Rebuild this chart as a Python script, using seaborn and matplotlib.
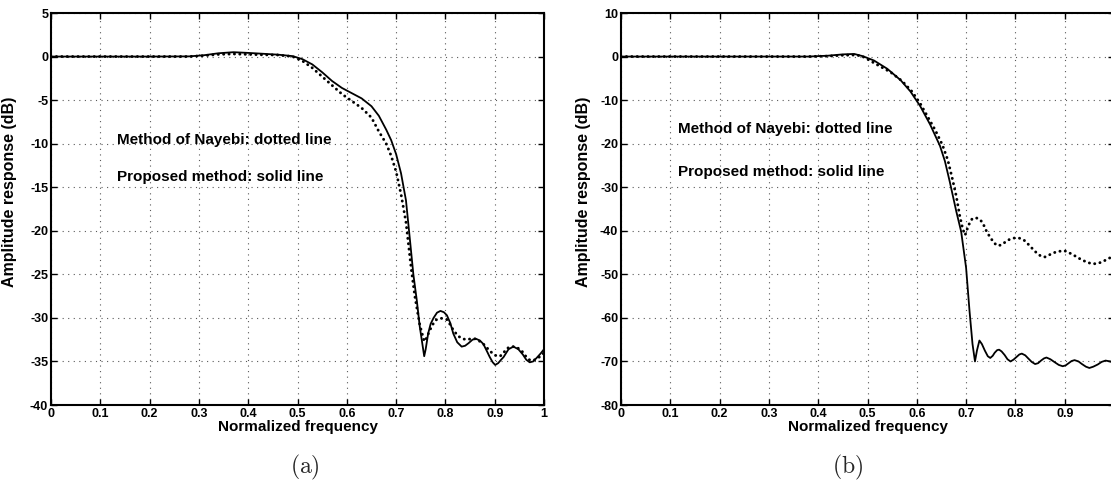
import matplotlib
matplotlib.use("Agg")
import matplotlib.pyplot as plt
import seaborn as sns
import pandas as pd

# ---------------- data ----------------
# panel (a)
a_solid_f = [0, 0.1, 0.2, 0.28, 0.31, 0.34, 0.37, 0.40, 0.43, 0.46, 0.49, 0.51, 0.53, 0.55,
             0.57, 0.59, 0.61, 0.63, 0.65, 0.665, 0.68, 0.69, 0.70, 0.71, 0.72, 0.728, 0.735,
             0.742, 0.748, 0.757, 0.760, 0.765, 0.770, 0.776, 0.783, 0.79, 0.797, 0.803, 0.81,
             0.816, 0.824, 0.833, 0.840, 0.847, 0.855, 0.862, 0.870, 0.877, 0.884, 0.89, 0.896,
             0.901, 0.907, 0.913, 0.918, 0.928, 0.938, 0.948, 0.957, 0.964, 0.971, 0.978, 0.985,
             0.993, 1.0]
a_solid_db = [0, 0, 0, 0.02, 0.15, 0.38, 0.5, 0.42, 0.32, 0.22, 0.05, -0.3, -0.9, -1.8,
              -2.8, -3.6, -4.2, -4.8, -5.7, -6.8, -8.4, -9.6, -11.2, -13.4, -16.5, -21.0, -25.0,
              -28.0, -31.0, -34.4, -33.6, -31.8, -30.7, -30.0, -29.4, -29.2, -29.35, -29.7, -30.6,
              -31.8, -32.8, -33.3, -33.2, -32.9, -32.5, -32.4, -32.6, -33.0, -33.8, -34.5, -35.1,
              -35.4, -35.2, -34.8, -34.5, -33.6, -33.3, -33.6, -34.2, -34.8, -35.1, -35.0, -34.6,
              -34.1, -33.6]
a_dot_f = [0, 0.1, 0.2, 0.28, 0.31, 0.34, 0.37, 0.40, 0.43, 0.46, 0.49, 0.51, 0.53, 0.55,
           0.57, 0.59, 0.61, 0.63, 0.65, 0.665, 0.68, 0.69, 0.70, 0.71, 0.72, 0.731, 0.738,
           0.748, 0.757, 0.762, 0.767, 0.772, 0.777, 0.782, 0.792, 0.803, 0.81, 0.816, 0.826,
           0.835, 0.843, 0.852, 0.862, 0.870, 0.879, 0.89, 0.901, 0.911, 0.918, 0.925, 0.933,
           0.941, 0.948, 0.955, 0.963, 0.970, 0.978, 0.985, 0.993, 1.0]
a_dot_db = [0, 0, 0, 0, 0.1, 0.25, 0.3, 0.25, 0.2, 0.18, 0.0, -0.5, -1.3, -2.3,
            -3.3, -4.3, -5.1, -5.9, -7.0, -8.6, -10.0, -11.4, -13.2, -15.8, -19.0, -24.5, -27.5,
            -30.8, -32.7, -32.3, -31.6, -31.0, -30.5, -30.2, -30.05, -30.2, -30.8, -31.4, -32.1,
            -32.4, -32.5, -32.4, -32.4, -32.7, -33.1, -33.8, -34.3, -34.4, -34.0, -33.5, -33.3,
            -33.3, -33.5, -33.8, -34.4, -34.8, -34.9, -34.7, -34.4, -34.0]

# panel (b)
b_solid_f = [0, 0.1, 0.2, 0.3, 0.38, 0.42, 0.45, 0.473, 0.49, 0.513, 0.54, 0.567, 0.587, 0.607,
             0.627, 0.647, 0.657, 0.667, 0.68, 0.69, 0.70, 0.707, 0.713, 0.718, 0.722, 0.727,
             0.732, 0.738, 0.744, 0.749, 0.754, 0.758, 0.763, 0.767, 0.772, 0.778, 0.784, 0.79,
             0.796, 0.802, 0.808, 0.813, 0.82, 0.826, 0.833, 0.84, 0.846, 0.852, 0.858, 0.863,
             0.871, 0.88, 0.888, 0.896, 0.902, 0.908, 0.914, 0.92, 0.928, 0.935, 0.943, 0.95,
             0.958, 0.967, 0.975, 0.983, 0.992, 1.0]
b_solid_db = [0, 0, 0, 0, 0, 0.2, 0.5, 0.6, 0.1, -0.9, -2.8, -5.4, -8.0, -11.4,
              -15.6, -20.5, -24.0, -28.8, -35.5, -40.2, -48.5, -58.5, -66.0, -70.0, -67.5, -65.2,
              -66.0, -67.5, -68.8, -69.2, -68.7, -68.0, -67.4, -67.3, -67.7, -68.5, -69.5, -70.0,
              -69.6, -69.0, -68.4, -68.2, -68.6, -69.3, -70.1, -70.6, -70.4, -69.8, -69.3, -69.1,
              -69.5, -70.2, -70.8, -71.1, -70.9, -70.4, -69.9, -69.7, -70.0, -70.6, -71.2, -71.5,
              -71.2, -70.7, -70.1, -69.8, -70.0, -70.3]
b_dot_f = [0, 0.1, 0.2, 0.3, 0.38, 0.42, 0.45, 0.47, 0.487, 0.50, 0.52, 0.547, 0.57, 0.59,
           0.607, 0.622, 0.637, 0.652, 0.663, 0.672, 0.68, 0.687, 0.693, 0.698, 0.705, 0.712,
           0.72, 0.729, 0.735, 0.74, 0.745, 0.75, 0.757, 0.763, 0.77, 0.777, 0.784, 0.79,
           0.80, 0.808, 0.817, 0.827, 0.837, 0.845, 0.853, 0.86, 0.865, 0.871, 0.877, 0.884,
           0.89, 0.90, 0.908, 0.917, 0.927, 0.937, 0.947, 0.957, 0.967, 0.977, 0.985, 0.992,
           1.0]
b_dot_db = [0, 0, 0, 0, 0, 0.1, 0.3, 0.35, 0.2, -0.6, -1.9, -3.6, -5.6, -8.0,
            -10.8, -13.8, -16.8, -20.3, -23.8, -28.0, -32.0, -36.5, -39.5, -41.0, -38.7, -37.3,
            -37.0, -37.5, -38.5, -39.8, -40.8, -41.7, -42.8, -43.4, -43.3, -42.8, -42.2, -41.9,
            -41.6, -41.7, -42.1, -43.2, -44.4, -45.3, -45.9, -46.0, -45.8, -45.4, -45.1, -44.8,
            -44.7, -44.6, -45.0, -45.5, -46.2, -46.8, -47.3, -47.6, -47.5, -47.1, -46.6, -46.2,
            -45.8]

x_ticks = [0, 0.1, 0.2, 0.3, 0.4, 0.5, 0.6, 0.7, 0.8, 0.9, 1.0]
a_x_tick_labels = ["0", "0.1", "0.2", "0.3", "0.4", "0.5", "0.6", "0.7", "0.8", "0.9", "1"]
b_x_tick_labels = ["0", "0.1", "0.2", "0.3", "0.4", "0.5", "0.6", "0.7", "0.8", "0.9", ""]
a_y_ticks = [-40, -35, -30, -25, -20, -15, -10, -5, 0, 5]
b_y_ticks = [-80, -70, -60, -50, -40, -30, -20, -10, 0, 10]

x_label = "Normalized frequency"
y_label = "Amplitude response (dB)"
note_dotted = "Method of Nayebi: dotted line"
note_solid = "Proposed method: solid line"

# ---------------- style ----------------
sns.set_theme(style="ticks")
plt.rcParams["font.family"] = ["Liberation Sans", "DejaVu Sans"]
plt.rcParams["axes.unicode_minus"] = False
plt.rcParams["mathtext.fontset"] = "cm"

W, H = 1111, 503
fig = plt.figure(figsize=(W / 100, H / 100), dpi=100)
fig.patch.set_facecolor("white")

ax_a = fig.add_axes([51 / W, (H - 405) / H, 493 / W, 392 / H])
ax_b = fig.add_axes([621 / W, (H - 405) / H, 493 / W, 392 / H])

DOT = dict(color="black", linewidth=2.1, linestyle=(0, (0.05, 1.8)),
           dash_capstyle="round")
SOLID = dict(color="black", linewidth=1.3)


def draw(ax, sf, sdb, df, ddb, xlabels, yticks, ylim, note_x, note_y1, note_y2,
         ylabel_x, cap, cap_x):
    sns.lineplot(data=pd.DataFrame({"f": sf, "db": sdb}), x="f", y="db", ax=ax,
                 sort=False, errorbar=None, **SOLID)
    sns.lineplot(data=pd.DataFrame({"f": df, "db": ddb}), x="f", y="db", ax=ax,
                 sort=False, errorbar=None, **DOT)
    ax.set_xlim(0, 1)
    ax.set_ylim(*ylim)
    ax.set_xticks(x_ticks)
    ax.set_xticklabels(xlabels)
    ax.set_yticks(yticks)
    ax.set_yticklabels([str(v) for v in yticks])
    ax.tick_params(direction="in", length=4, width=1.0, top=True, right=True,
                   labelsize=9, pad=2, colors="black")
    for lab in ax.get_xticklabels() + ax.get_yticklabels():
        lab.set_fontweight("bold")
    for sp in ax.spines.values():
        sp.set_visible(True)
        sp.set_linewidth(1.5)
        sp.set_color("black")
    ax.grid(True, color="0.35", linestyle=(0, (1, 4)), linewidth=0.8)
    ax.set_axisbelow(True)
    ax.set_xlabel(x_label, fontsize=11, fontweight="bold", labelpad=0.5, color="black")
    ax.set_ylabel(y_label, fontsize=11.5, fontweight="bold", color="black")
    ax.yaxis.set_label_coords(ylabel_x, 0.545)
    ax.text(note_x, note_y1, note_dotted, fontsize=11, fontweight="bold",
            va="center", ha="left", color="black")
    ax.text(note_x, note_y2, note_solid, fontsize=11, fontweight="bold",
            va="center", ha="left", color="black")
    ax.set_facecolor("white")
    fig.text(cap_x, 1 - 467 / H, cap, fontsize=17, ha="center", va="center",
             math_fontfamily="cm")


draw(ax_a, a_solid_f, a_solid_db, a_dot_f, a_dot_db, a_x_tick_labels, a_y_ticks, (-40, 5),
     0.133, -9.6, -13.8, -0.068, r"$(\mathrm{a})$", 305 / W)
draw(ax_b, b_solid_f, b_solid_db, b_dot_f, b_dot_db, b_x_tick_labels, b_y_ticks, (-80, 10),
     0.115, -16.6, -26.5, -0.06, r"$(\mathrm{b})$", 848 / W)

fig.savefig("out.png", dpi=100, facecolor="white")
